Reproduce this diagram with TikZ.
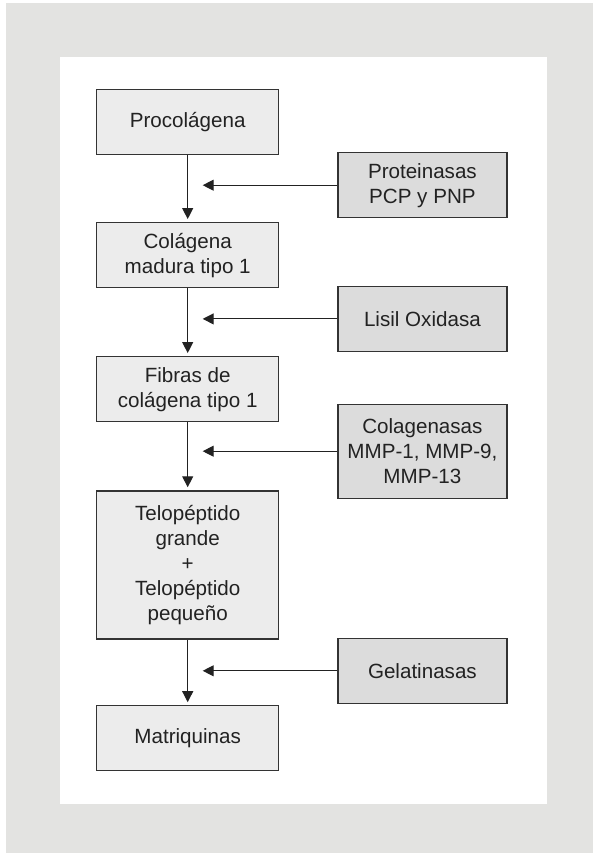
\documentclass[tikz,border=0pt]{standalone}
\usepackage{fontspec}
\setmainfont{Liberation Sans}
\usetikzlibrary{arrows.meta}

\definecolor{outergray}{HTML}{E3E3E1}
\definecolor{boxlight}{HTML}{ECECEC}
\definecolor{boxdark}{HTML}{DCDCDC}
\definecolor{edgegray}{HTML}{333333}
\definecolor{textgray}{HTML}{222222}

\begin{document}
\begin{tikzpicture}[
  x=1pt, y=-1pt,
  every node/.style={align=center, text=textgray, font=\fontsize{20.6}{25}\selectfont},
  % Main chain boxes (left)
  stage/.style={rectangle, draw=edgegray, line width=1.3pt, fill=boxlight, minimum width=182pt, minimum height=65pt, inner sep=0pt},
  % Enzyme boxes (right)
  enzyme/.style={rectangle, draw=edgegray, line width=1.3pt, fill=boxdark, minimum width=169pt, minimum height=65pt, inner sep=0pt},
  % Arrows
  flow/.style={line width=1.1pt, draw=textgray, -{Triangle[length=11pt, width=11pt]}}
]

% === Frame ===
\useasboundingbox (0,0) rectangle (593,853);
\fill[outergray] (6,3) rectangle (593,853);
\fill[white] (60,57) rectangle (547,804);

% === Main chain ===
\node[stage] (proc) at (187.7, 122.2) {Procolágena};
\node[stage] (cola) at (187.7, 255.2) {Colágena\\madura tipo 1};
\node[stage] (fib) at (187.7, 389.2) {Fibras de\\colágena tipo 1};
\node[stage, minimum height=148pt] (telo) at (187.7, 564.9) {Telopéptido\\grande\\+\\Telopéptido\\pequeño};
\node[stage] (matr) at (187.7, 738.3) {Matriquinas};

% Edges: stage -> stage
\draw[flow, shorten >=3pt] (proc.south) -- (cola.north);
\draw[flow, shorten >=3pt] (cola.south) -- (fib.north);
\draw[flow, shorten >=3pt] (fib.south) -- (telo.north);
\draw[flow, shorten >=3pt] (telo.south) -- (matr.north);

% === Enzymes ===
\node[enzyme] (prot) at (422.4, 185.2) {Proteinasas\\PCP y PNP};
\node[enzyme] (lisil) at (422.4, 318.9) {Lisil Oxidasa};
\node[enzyme, minimum height=94pt] (colag) at (422.4, 451.2) {Colagenasas\\MMP-1, MMP-9,\\MMP-13};
\node[enzyme] (gel) at (422.4, 670.8) {Gelatinasas};

% Arrow ends beside the chain
\coordinate (protend) at (202.7, 185.2);
\coordinate (lisilend) at (202.7, 318.9);
\coordinate (colagend) at (202.7, 451.2);
\coordinate (gelend) at (202.7, 670.8);

% Edges: enzyme -> chain
\draw[flow] (prot.west) -- (protend);
\draw[flow] (lisil.west) -- (lisilend);
\draw[flow] (colag.west) -- (colagend);
\draw[flow] (gel.west) -- (gelend);

\end{tikzpicture}
\end{document}
